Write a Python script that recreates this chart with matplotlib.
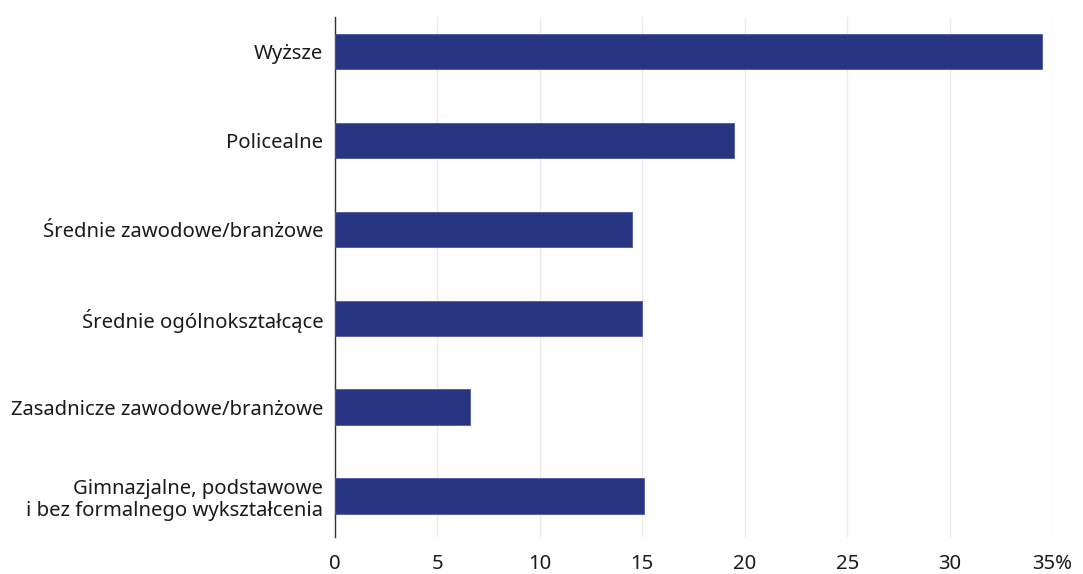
import matplotlib
matplotlib.use("Agg")
import matplotlib.pyplot as plt

plt.rcParams['font.family'] = ['Noto Sans', 'DejaVu Sans']

categories = [
    "Wyższe",
    "Policealne",
    "Średnie zawodowe/branżowe",
    "Średnie ogólnokształcące",
    "Zasadnicze zawodowe/branżowe",
    "Gimnazjalne, podstawowe\ni bez formalnego wykształcenia",
]
values = [34.5, 19.5, 14.5, 15.0, 6.6, 15.1]
xticks = [0, 5, 10, 15, 20, 25, 30, 35]
xticklabels = ["0", "5", "10", "15", "20", "25", "30", "35%"]

fig = plt.figure(figsize=(10.83, 5.74), dpi=100)
ax = fig.add_axes([335/1083, 1 - 537/574, (1052 - 335)/1083, (537 - 17)/574])

pos = list(range(len(categories)))
ax.barh(pos, values, height=0.4, color="#283583", edgecolor="#4a58a0", linewidth=0.6, zorder=3)

ax.set_xlim(0, 35)
ax.set_ylim(5.46, -0.39)
ax.set_xticks(xticks)
ax.set_xticklabels(xticklabels)
ax.set_yticks(pos)
ax.set_yticklabels(categories, ha="right", multialignment="right", linespacing=1.15)
ax.tick_params(axis="both", length=0, labelsize=14.6, colors="#1a1a1a")
ax.tick_params(axis="x", pad=12.5)
ax.tick_params(axis="y", pad=8.5)

ax.grid(axis="x", color="#ebebeb", linewidth=1, zorder=0)
for s in ["top", "right", "bottom"]:
    ax.spines[s].set_visible(False)
ax.spines["left"].set_color("#333333")
ax.spines["left"].set_linewidth(1)

fig.savefig("out.png", dpi=100)
